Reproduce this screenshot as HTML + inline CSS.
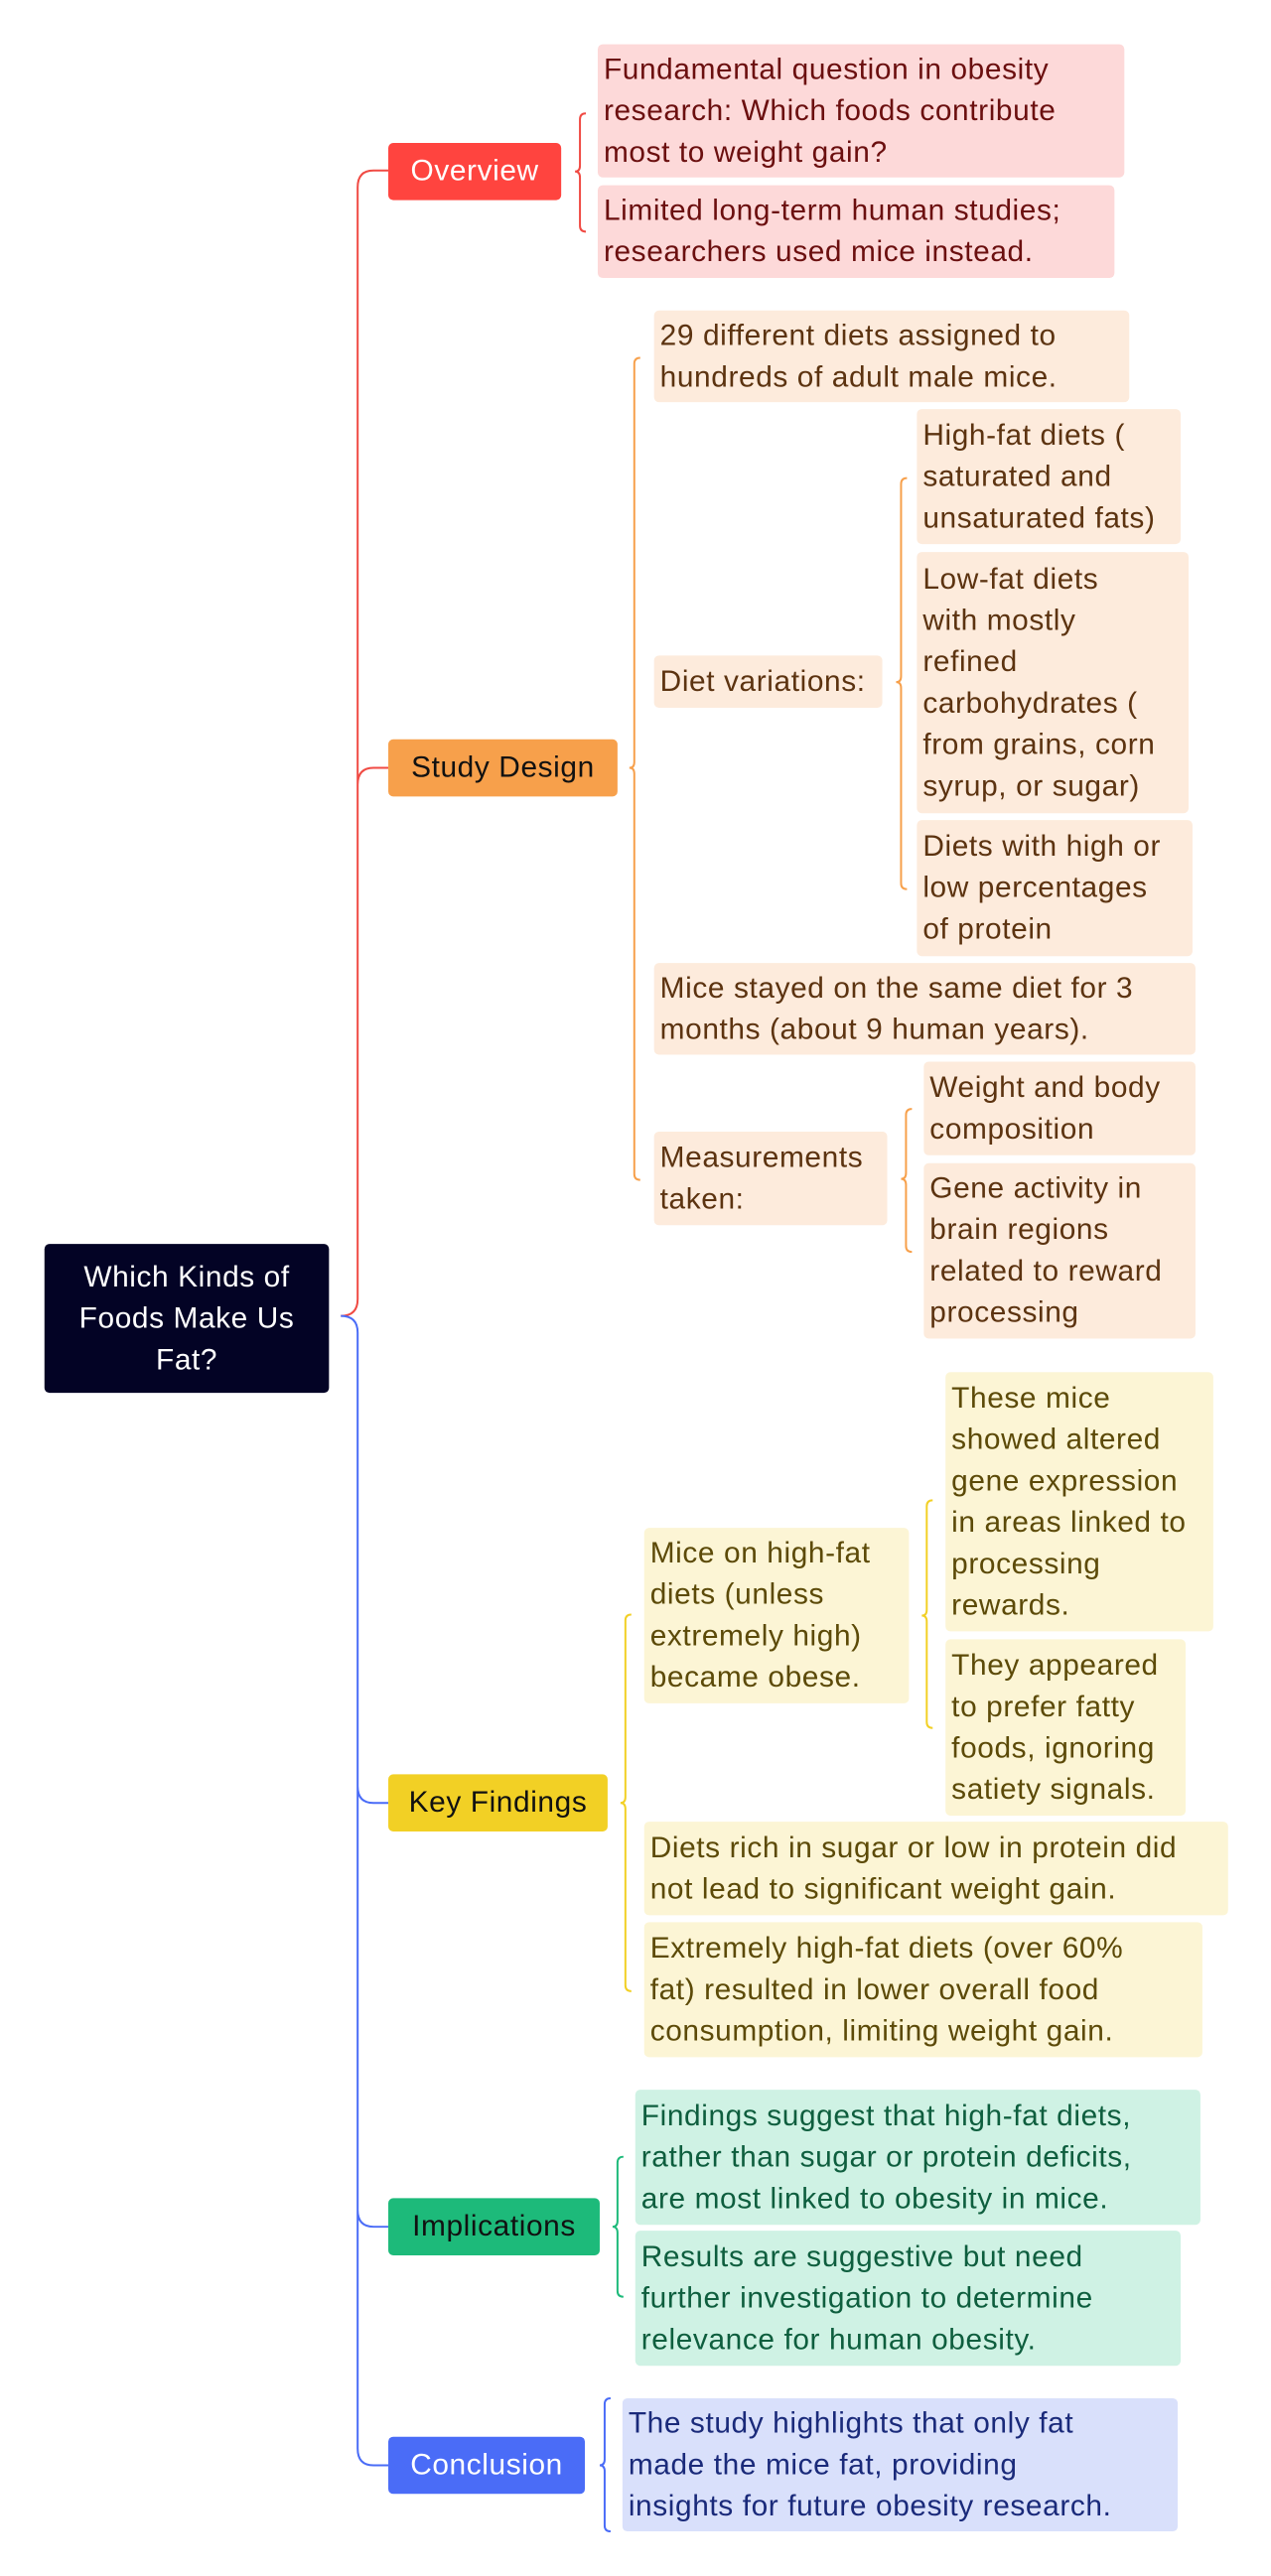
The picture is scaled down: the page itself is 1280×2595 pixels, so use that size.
<!DOCTYPE html>
<html><head><meta charset="utf-8"><style>
body{margin:0;width:1280px;height:2595px;background:#fff;position:relative;overflow:hidden;font-family:"Liberation Sans",sans-serif}
#w{position:absolute;left:0;top:0;width:1280px;height:2595px;transform:scale(0.995,0.993);transform-origin:0 0}
.b{position:absolute;box-sizing:border-box;border-radius:5px;display:flex;align-items:center;padding:0 6px;font-size:30px;letter-spacing:0.6px;line-height:42px;white-space:nowrap}
.m{justify-content:center;padding:0}
.r{background:#FDD9D9;color:#6B0F0F}.o{background:#FDEBDC;color:#5C3310}.y{background:#FCF5D5;color:#5C4A08}.g{background:#CFF2E4;color:#0E5E3E}.u{background:#D9E0FB;color:#1A2A7A}
svg{position:absolute;left:0;top:0}
</style></head><body><div id="w">
<svg width="1280" height="2595" fill="none" stroke-width="2">
<path d="M345 1335 Q362 1335 362 1318 L362 190 Q362 173 378 173 L393 173 M362 796 Q362 779 378 779 L393 779" stroke="#F04A43"/>
<path d="M345 1335 Q362 1335 362 1352 L362 2484 Q362 2501 378 2501 L393 2501 M362 1812 Q362 1829 378 1829 L393 1829 M362 2242 Q362 2259 378 2259 L393 2259" stroke="#4A6CF7"/>
<path d="M593 115 Q587 115 587 121 L587 168 Q587 174 582 174 Q587 174 587 180 L587 229 Q587 235 593 235" stroke="#F04A43"/>
<path d="M648 363 Q642 363 642 369 L642 773 Q642 779 637 779 Q642 779 642 785 L642 1191 Q642 1197 648 1197" stroke="#F7A04B"/>
<path d="M918 485 Q912 485 912 491 L912 686 Q912 692 907 692 Q912 692 912 698 L912 896 Q912 902 918 902" stroke="#F7A04B"/>
<path d="M923 1125 Q917 1125 917 1131 L917 1190 Q917 1196 912 1196 Q917 1196 917 1202 L917 1264 Q917 1270 923 1270" stroke="#F7A04B"/>
<path d="M639 1638 Q633 1638 633 1644 L633 1823 Q633 1829 628 1829 Q633 1829 633 1835 L633 2014 Q633 2020 639 2020" stroke="#F2D025"/>
<path d="M944 1522 Q938 1522 938 1528 L938 1633 Q938 1639 933 1639 Q938 1639 938 1645 L938 1747 Q938 1753 944 1753" stroke="#F2D025"/>
<path d="M631 2188 Q625 2188 625 2194 L625 2253 Q625 2259 620 2259 Q625 2259 625 2265 L625 2324 Q625 2330 631 2330" stroke="#1DBA7A"/>
<path d="M618 2433 Q612 2433 612 2439 L612 2495 Q612 2501 607 2501 Q612 2501 612 2507 L612 2562 Q612 2568 618 2568" stroke="#4A6CF7"/>
</svg>
<div class="b m" style="left:45px;top:1262px;width:288px;height:151px;background:#030325;color:#fff;text-align:center;white-space:normal">Which Kinds of<br>Foods Make Us<br>Fat?</div>
<div class="b m" style="left:393px;top:145px;width:175px;height:58px;background:#FF443F;color:#fff">Overview</div>
<div class="b r" style="left:605px;top:45px;width:533px;height:135px">Fundamental question in obesity<br>research: Which foods contribute<br>most to weight gain?</div>
<div class="b r" style="left:605px;top:188px;width:523px;height:94px">Limited long-term human studies;<br>researchers used mice instead.</div>
<div class="b m" style="left:393px;top:750px;width:232px;height:58px;background:#F7A04B;color:#111">Study Design</div>
<div class="b o" style="left:662px;top:315px;width:481px;height:93px">29 different diets assigned to<br>hundreds of adult male mice.</div>
<div class="b o" style="left:662px;top:665px;width:231px;height:53px">Diet variations:</div>
<div class="b o" style="left:928px;top:415px;width:267px;height:137px">High-fat diets (<br>saturated and<br>unsaturated fats)</div>
<div class="b o" style="left:928px;top:560px;width:275px;height:265px">Low-fat diets<br>with mostly<br>refined<br>carbohydrates (<br>from grains, corn<br>syrup, or sugar)</div>
<div class="b o" style="left:928px;top:832px;width:279px;height:138px">Diets with high or<br>low percentages<br>of protein</div>
<div class="b o" style="left:662px;top:977px;width:548px;height:93px">Mice stayed on the same diet for 3<br>months (about 9 human years).</div>
<div class="b o" style="left:662px;top:1148px;width:236px;height:95px">Measurements<br>taken:</div>
<div class="b o" style="left:935px;top:1077px;width:275px;height:95px">Weight and body<br>composition</div>
<div class="b o" style="left:935px;top:1180px;width:275px;height:178px">Gene activity in<br>brain regions<br>related to reward<br>processing</div>
<div class="b m" style="left:393px;top:1800px;width:222px;height:58px;background:#F2D025;color:#111">Key Findings</div>
<div class="b y" style="left:652px;top:1550px;width:268px;height:178px">Mice on high-fat<br>diets (unless<br>extremely high)<br>became obese.</div>
<div class="b y" style="left:957px;top:1392px;width:271px;height:263px">These mice<br>showed altered<br>gene expression<br>in areas linked to<br>processing<br>rewards.</div>
<div class="b y" style="left:957px;top:1663px;width:243px;height:179px">They appeared<br>to prefer fatty<br>foods, ignoring<br>satiety signals.</div>
<div class="b y" style="left:652px;top:1848px;width:591px;height:95px">Diets rich in sugar or low in protein did<br>not lead to significant weight gain.</div>
<div class="b y" style="left:652px;top:1950px;width:565px;height:137px">Extremely high-fat diets (over 60%<br>fat) resulted in lower overall food<br>consumption, limiting weight gain.</div>
<div class="b m" style="left:393px;top:2230px;width:214px;height:58px;background:#1DBA7A;color:#111">Implications</div>
<div class="b g" style="left:643px;top:2120px;width:572px;height:137px">Findings suggest that high-fat diets,<br>rather than sugar or protein deficits,<br>are most linked to obesity in mice.</div>
<div class="b g" style="left:643px;top:2263px;width:552px;height:137px">Results are suggestive but need<br>further investigation to determine<br>relevance for human obesity.</div>
<div class="b m" style="left:393px;top:2472px;width:199px;height:58px;background:#4A6CF7;color:#fff">Conclusion</div>
<div class="b u" style="left:630px;top:2433px;width:562px;height:135px">The study highlights that only fat<br>made the mice fat, providing<br>insights for future obesity research.</div>
</div></body></html>
